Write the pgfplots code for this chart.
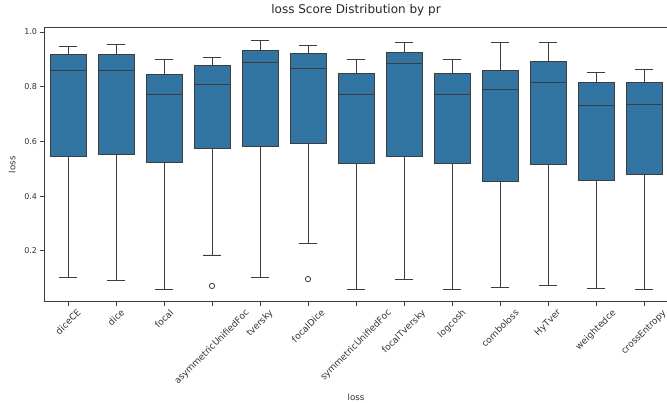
\documentclass[border=0pt]{standalone}
\usepackage{fontspec}
\setmainfont{DejaVu Sans}
\usepackage{graphicx}
\usepackage{pgfplots}
\pgfplotsset{compat=1.18}
\usepgfplotslibrary{statistics}
\definecolor{boxblue}{RGB}{50,116,161}
\definecolor{linegray}{RGB}{61,61,61}
\newcommand{\rl}[1]{\rotatebox{45}{#1}}
\pgfplotsset{
  mybox/.style={boxplot prepared={#1, box extend=0.75, whisker extend=0.375},
    fill=boxblue, draw=linegray, line width=0.7pt, solid,
    mark=o, mark size=2pt, mark options={draw=linegray, fill=white, line width=0.6pt}},
}
\begin{document}
\begin{tikzpicture}[x=0.75pt,y=0.75pt]
\useasboundingbox (0,0) rectangle (667,403);
\begin{axis}[
  at={(33pt,76pt)}, anchor=south west,
  scale only axis, width=468pt, height=205.5pt,
  xmin=-0.5, xmax=12.5, ymin=0.0145, ymax=1.0155,
  xtick={0,...,12},
  xticklabels={\rl{diceCE},\rl{dice},\rl{focal},\rl{asymmetricUnifiedFoc},\rl{tversky},\rl{focalDice},\rl{symmetricUnifiedFoc},\rl{focalTversky},\rl{logcosh},\rl{comboloss},\rl{HyTver},\rl{weightedce},\rl{crossEntropy}},
  ytick={0.2,0.4,0.6,0.8,1.0},
  yticklabel style={/pgf/number format/fixed, /pgf/number format/precision=1, /pgf/number format/fixed zerofill, font=\fontsize{6}{7}\selectfont, inner sep=2pt},
  /pgf/number format/assume math mode=true,
  tick align=outside, tick pos=left, major tick length=3pt,
  ticklabel style={text=black!80},
  xticklabel style={anchor=north, font=\fontsize{6.8}{7}\selectfont, inner sep=1pt, yshift=-1pt},
  axis line style={linegray, line width=0.6pt},
  tick style={linegray, line width=0.6pt},
  boxplot/draw direction=y,
  title={loss Score Distribution by pr},
  title style={at={(axis description cs:0.5,1.036)}, anchor=center, font=\fontsize{9}{10}\selectfont, text=black!85},
  xlabel={loss}, ylabel={loss},
  xlabel style={at={(axis description cs:0.5,-0.35)}, anchor=center, font=\fontsize{6.5}{7}\selectfont, text=black!80},
  ylabel style={at={(axis description cs:-0.051,0.5)}, anchor=center, font=\fontsize{6.5}{7}\selectfont, text=black!80},
]
\addplot[mybox={draw position=0, lower whisker=0.103, lower quartile=0.545, median=0.858, upper quartile=0.917, upper whisker=0.945}] coordinates {};
\addplot[mybox={draw position=1, lower whisker=0.092, lower quartile=0.551, median=0.860, upper quartile=0.917, upper whisker=0.954}] coordinates {};
\addplot[mybox={draw position=2, lower whisker=0.060, lower quartile=0.523, median=0.771, upper quartile=0.846, upper whisker=0.901}] coordinates {};
\addplot[mybox={draw position=3, lower whisker=0.185, lower quartile=0.574, median=0.808, upper quartile=0.877, upper whisker=0.907}] table[row sep=\\, y index=0] {data\\ 0.072\\};
\addplot[mybox={draw position=4, lower whisker=0.103, lower quartile=0.582, median=0.890, upper quartile=0.932, upper whisker=0.968}] coordinates {};
\addplot[mybox={draw position=5, lower whisker=0.226, lower quartile=0.594, median=0.865, upper quartile=0.921, upper whisker=0.949}] table[row sep=\\, y index=0] {data\\ 0.097\\};
\addplot[mybox={draw position=6, lower whisker=0.060, lower quartile=0.521, median=0.772, upper quartile=0.848, upper whisker=0.898}] coordinates {};
\addplot[mybox={draw position=7, lower whisker=0.097, lower quartile=0.545, median=0.884, upper quartile=0.926, upper whisker=0.960}] coordinates {};
\addplot[mybox={draw position=8, lower whisker=0.060, lower quartile=0.521, median=0.772, upper quartile=0.848, upper whisker=0.898}] coordinates {};
\addplot[mybox={draw position=9, lower whisker=0.068, lower quartile=0.452, median=0.790, upper quartile=0.858, upper whisker=0.960}] coordinates {};
\addplot[mybox={draw position=10, lower whisker=0.072, lower quartile=0.517, median=0.814, upper quartile=0.893, upper whisker=0.963}] coordinates {};
\addplot[mybox={draw position=11, lower whisker=0.063, lower quartile=0.457, median=0.732, upper quartile=0.817, upper whisker=0.852}] coordinates {};
\addplot[mybox={draw position=12, lower whisker=0.060, lower quartile=0.478, median=0.734, upper quartile=0.817, upper whisker=0.861}] coordinates {};
\end{axis}
\end{tikzpicture}
\end{document}
